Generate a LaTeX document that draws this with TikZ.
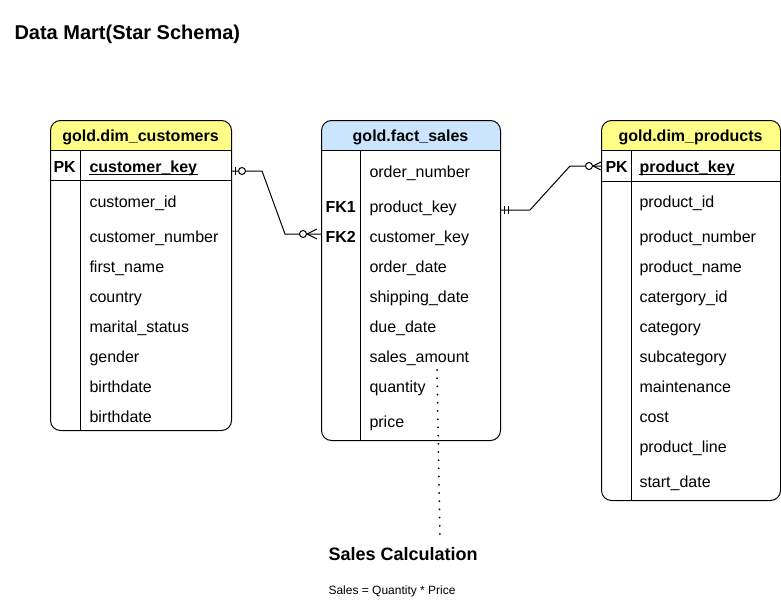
\documentclass[tikz,border=0pt]{standalone}
\usepackage{fontspec}
\setmainfont{Liberation Sans}
\definecolor{hdryellow}{HTML}{FFFF88}
\definecolor{hdrblue}{HTML}{CCE5FF}

\tikzset{
  erbox/.style 2 args={draw, rounded corners=10pt, anchor=north west, inner sep=0pt,
    minimum width=#1, path picture={\fill[#2, sharp corners] (path picture bounding box.north west) rectangle ([yshift=-30pt]path picture bounding box.north east);}},
  hdr/.style={anchor=base, inner sep=0pt, font=\bfseries\fontsize{16}{19}\selectfont},
  fld/.style={anchor=base west, inner sep=0pt, font=\fontsize{16}{19}\selectfont},
  keyf/.style={fld, font=\bfseries\fontsize{16}{19}\selectfont},
  heading/.style={anchor=base west, inner sep=0pt, font=\bfseries\fontsize{20}{24}\selectfont},
  note/.style={line width=2pt, line cap=round, dash pattern=on 0pt off 8.2pt}
}

\begin{document}
\begin{tikzpicture}[x=1pt, y=-1pt, line width=1pt]
  \useasboundingbox (0,0) rectangle (781,613);
  \node[heading] (title) at (14,39) {Data Mart(Star Schema)};

  % tables
  \node[erbox={181pt}{hdryellow}, minimum height=310pt] (cust) at (50,120) {};
  \node[erbox={179pt}{hdrblue}, minimum height=320pt] (fact) at (321,120) {};
  \node[erbox={179pt}{hdryellow}, minimum height=380pt] (prod) at (601,120) {};
  \foreach \tb/\col in {cust/30, fact/39, prod/30} {
    \draw ([yshift=-30pt]\tb.north west) -- ([yshift=-30pt]\tb.north east);
    \draw ([xshift=\col pt, yshift=-30pt]\tb.north west) -- ([xshift=\col pt]\tb.south west);
  }
  \draw ([yshift=-60pt]cust.north west) -- ([yshift=-60pt]cust.north east);
  \draw ([yshift=-61pt]prod.north west) -- ([yshift=-61pt]prod.north east);

  % gold.dim_customers
  \node[hdr] (custh) at (140.5,141) {gold.dim\_customers};
  \node[keyf] (custpk) at (53,172) {PK};
  \node[keyf] (custkey) at (89,172) {customer\_key};
  \draw ([yshift=-2pt]custkey.base west) -- ([yshift=-2pt]custkey.base east);
  \foreach \name/\yb [count=\i] in {customer\_id/207, customer\_number/242, first\_name/272,
      country/302, marital\_status/332, gender/362, birthdate/392, birthdate/422}
    \node[fld] (cust\i) at (89,\yb) {\name};

  % gold.fact_sales
  \node[hdr] (facth) at (410.5,141) {gold.fact\_sales};
  \node[keyf] (fk1) at (325,212) {FK1};
  \node[keyf] (fk2) at (325,242) {FK2};
  \foreach \name/\yb [count=\i] in {order\_number/177, product\_key/212, customer\_key/242,
      order\_date/272, shipping\_date/302, due\_date/332, sales\_amount/362, quantity/392, price/427}
    \node[fld] (fact\i) at (369,\yb) {\name};

  % gold.dim_products
  \node[hdr] (prodh) at (690.5,141) {gold.dim\_products};
  \node[keyf] (prodpk) at (605,172) {PK};
  \node[keyf] (prodkey) at (639,172) {product\_key};
  \draw ([yshift=-2pt]prodkey.base west) -- ([yshift=-2pt]prodkey.base east);
  \foreach \name/\yb [count=\i] in {product\_id/207, product\_number/242, product\_name/272,
      catergory\_id/302, category/332, subcategory/362, maintenance/392, cost/422,
      product\_line/452, start\_date/487}
    \node[fld] (prod\i) at (639,\yb) {\name};

  % relations
  \draw (cust.east |- 0,171) -- (262,171) -- (285,234) -- (fact.west |- 0,234);
  \draw (235,167) -- (235,175);
  \draw[fill=white] (242,171) circle (3.5pt);
  \draw (307,234) -- (317,229) (307,234) -- (317,239);
  \draw[fill=white] (303,234) circle (3.5pt);

  \draw (fact.east |- 0,210) -- (530,210) -- (570,166) -- (prod.west |- 0,166);
  \draw (504,206) -- (504,214) (508,206) -- (508,214);
  \draw (593,166) -- (601,162) (593,166) -- (601,170);
  \draw[fill=white] (589,166) circle (3.5pt);

  % sales calculation
  \node[anchor=base west, inner sep=0pt, font=\bfseries\fontsize{18}{22}\selectfont] (calc) at (328,560) {Sales Calculation};
  \node[anchor=base west, inner sep=0pt, font=\fontsize{12}{14}\selectfont] (formula) at (328,594) {Sales = Quantity * Price};
  \coordinate (amt) at (437,370);
  \coordinate (calctop) at (440,540);
  \draw[note] (amt) -- (calctop);
\end{tikzpicture}
\end{document}
